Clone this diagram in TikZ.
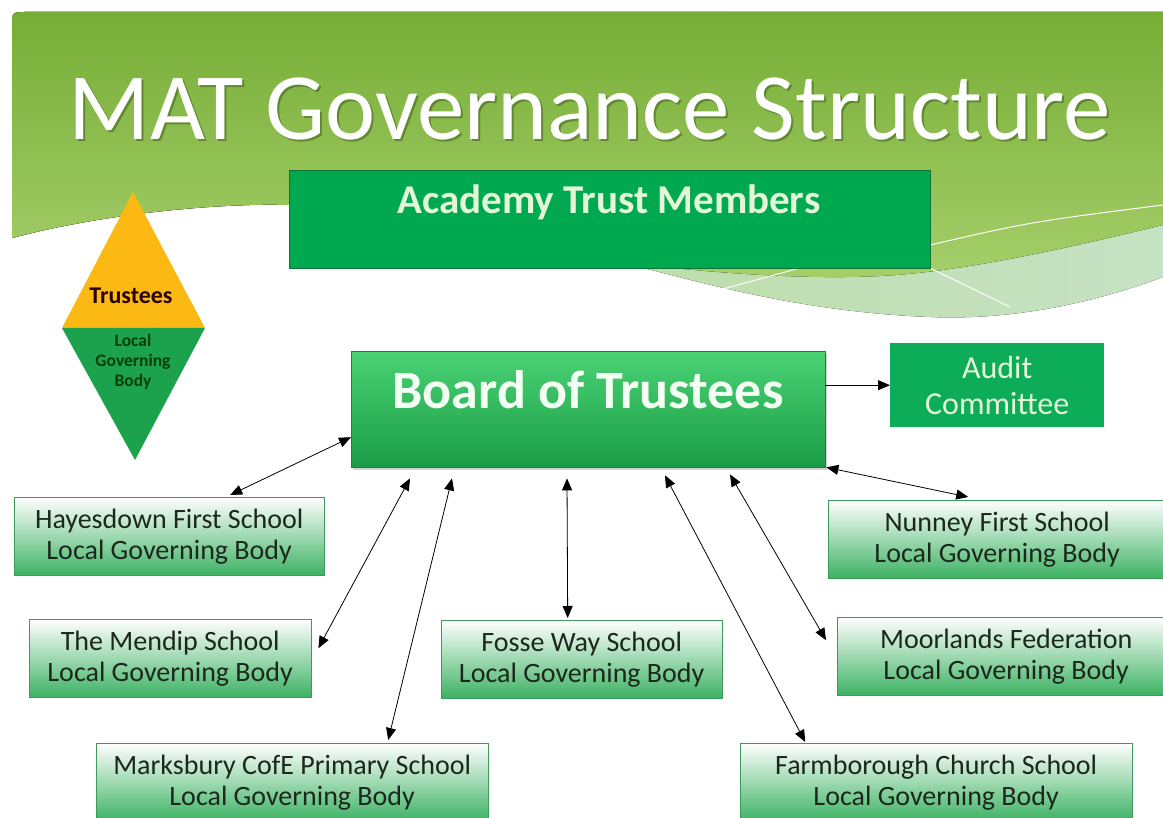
\documentclass[tikz,border=0pt]{standalone}
\usepackage{fontspec}
\setmainfont{Carlito}
\usetikzlibrary{arrows.meta,shadows}

\definecolor{hdrtop}{HTML}{76AD36}
\definecolor{hdrbot}{HTML}{A6CF6A}
\definecolor{swoleft}{HTML}{B4D88E}
\definecolor{sworight}{HTML}{C6E2C4}
\definecolor{trustgreen}{HTML}{00A850}
\definecolor{trustedge}{HTML}{0E7436}
\definecolor{boardtop}{HTML}{4AD274}
\definecolor{boardbot}{HTML}{1A9C46}
\definecolor{lgbgreen}{HTML}{3CB262}
\definecolor{lgbedge}{HTML}{3E9A5C}
\definecolor{gold}{HTML}{FDB913}
\definecolor{diamgreen}{HTML}{1CA24C}
\definecolor{darktext}{HTML}{1C281C}
\definecolor{pale}{HTML}{E4F6D8}

\tikzset{
	lgb/.style = {draw = lgbedge, top color = white, bottom color = lgbgreen, minimum height = 78, inner sep = 0pt, anchor = north west, align = center, text = darktext, font = \fontsize{28}{31}\selectfont},
	link/.style = {{Triangle[length = 12pt, width = 10pt]}-{Triangle[length = 12pt, width = 10pt]}, line width = 0.8pt},
	linkone/.style = {-{Triangle[length = 12pt, width = 10pt]}, line width = 0.8pt}
}

\begin{document}
\begin{tikzpicture}[x = 1pt, y = -1pt]
	\useasboundingbox (0,0) rectangle (1163,818);
	\fill[white] (0,0) rectangle (1163,818);

	% header band
	\fill[left color = swoleft, right color = sworight]
	(12,27) .. controls (12,12) .. (27,12) -- (1163,12) -- (1163,277)
	.. controls (1080,308) and (1000,320) .. (930,317)
	.. controls (800,312) and (700,282) .. (620,262)
	.. controls (450,222) and (350,202) .. (250,205)
	.. controls (150,208) and (60,225) .. (12,238) -- cycle;
	\fill[top color = hdrtop, bottom color = hdrbot]
	(12,27) .. controls (12,12) .. (27,12) -- (1163,12) -- (1163,225)
	.. controls (1060,250) and (960,272) .. (880,276)
	.. controls (800,280) and (700,272) .. (620,262)
	.. controls (450,222) and (350,202) .. (250,205)
	.. controls (150,208) and (60,225) .. (12,238) -- cycle;
	\draw[white, line width = 1pt] (930,245) .. controls (1030,222) .. (1163,205);
	\draw[white, line width = 1pt] (930,268) -- (1010,307);
	\draw[white, line width = 1pt] (712,292) -- (800,268);

	% title
	\node[anchor = base, text = hdrtop!60!black, opacity = 0.6, font = \fontsize{95}{100}\selectfont] at (592,142) {MAT Governance Structure};
	\node[anchor = base, text = white, font = \fontsize{95}{100}\selectfont] (title) at (590,140) {MAT Governance Structure};

	% members
	\node[draw = trustedge, fill = trustgreen, line width = 1pt, minimum width = 641, minimum height = 98, anchor = north west] (members) at (289,170) {};
	\node[anchor = base, text = pale, font = \bfseries\fontsize{41}{43}\selectfont] (memberstext) at (609,214) {Academy Trust Members};

	% diamond
	\coordinate (DT) at (133,192);
	\coordinate (DL) at (62,328);
	\coordinate (DR) at (205,328);
	\coordinate (DB) at (135,460);
	\fill[gold] (DT) -- (DR) -- (DL) -- cycle;
	\fill[diamgreen] (DL) -- (DR) -- (DB) -- cycle;
	\node[anchor = base, text = black!85!red, font = \bfseries\fontsize{24}{25}\selectfont] (trusteestext) at (131,304) {Trustees};
	\node[anchor = north, align = center, text = green!25!black, font = \bfseries\fontsize{17.5}{20}\selectfont, inner sep = 0pt] (lgbtext) at (133,334) {Local\\Governing\\Body};

	% board and audit
	\node[draw = boardbot!85!black, top color = boardtop, bottom color = boardbot, drop shadow = {shadow xshift = 2pt, shadow yshift = -3pt, opacity = 0.35}, minimum width = 474, minimum height = 116, anchor = north west] (board) at (351,351) {};
	\node[anchor = base, text = white!95!green, font = \bfseries\fontsize{54}{56}\selectfont] (boardtext) at (588,409) {Board of Trustees};
	\node[fill = trustgreen!95!white, minimum width = 214, minimum height = 84, anchor = north west, inner sep = 0pt] (audit) at (890,343) {};
	\node[align = center, text = pale, font = \fontsize{32}{36}\selectfont] (audittext) at (audit.center) {Audit\\Committee};

	% local governing bodies
	\node[lgb, minimum width = 310] (hayes) at (14,497) {Hayesdown First School\\Local Governing Body};				%1
	\node[lgb, minimum width = 282] (mendip) at (29,619) {The Mendip School\\Local Governing Body};				%2
	\node[lgb, minimum width = 392] (marks) at (96,743) {Marksbury CofE Primary School\\Local Governing Body};	%3
	\node[lgb, minimum width = 281] (fosse) at (441,620) {Fosse Way School\\Local Governing Body};				%4
	\node[lgb, minimum width = 392] (farm) at (740,743) {Farmborough Church School\\Local Governing Body};		%5
	\node[lgb, minimum width = 338] (moor) at (837,617) {Moorlands Federation\\Local Governing Body};			%6
	\node[lgb, minimum width = 338] (nunney) at (828,500) {Nunney First School\\Local Governing Body};			%7

	% connectors
	\draw[linkone] ([yshift = 24pt]board.east) -- (audit.west);
	\draw[link] ([xshift = 61pt, yshift = 2pt]hayes.north) -- ([yshift = -28pt]board.west);
	\draw[link] ([xshift = 7pt, yshift = 10pt]mendip.east) -- ([xshift = 59pt, yshift = -11pt]board.south west);
	\draw[link] ([xshift = 96pt, yshift = 3pt]marks.north) -- ([xshift = 101pt, yshift = -11pt]board.south west);
	\draw[link] ([xshift = -14pt, yshift = 2pt]fosse.north) -- ([xshift = 216pt, yshift = -11pt]board.south west);
	\draw[link] ([xshift = -131pt, yshift = 1pt]farm.north) -- ([xshift = 314pt, yshift = -8pt]board.south west);
	\draw[link] ([xshift = -11pt, yshift = 16pt]moor.west) -- ([xshift = 379pt, yshift = -7pt]board.south west);
	\draw[link] ([xshift = -29pt, yshift = 3pt]nunney.north) -- ([xshift = 1pt]board.south east);
\end{tikzpicture}
\end{document}
